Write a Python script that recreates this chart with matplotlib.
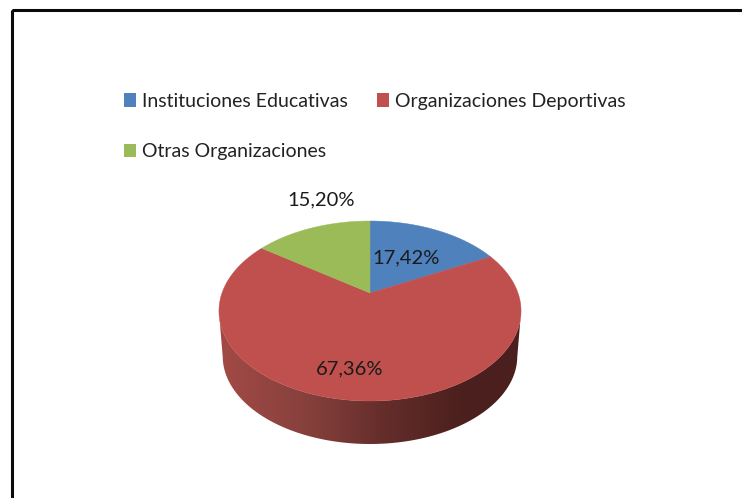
import numpy as np
import matplotlib
matplotlib.use('Agg')
import matplotlib.pyplot as plt
from matplotlib.colors import LinearSegmentedColormap
from matplotlib.patches import Polygon, Rectangle

labels = ['Instituciones Educativas', 'Otras Organizaciones', 'Organizaciones Deportivas']
# clockwise from 12 o'clock
slice_names = ['Instituciones Educativas', 'Organizaciones Deportivas', 'Otras Organizaciones']
slice_values = [17.42, 67.36, 15.20]
slice_colors = ['#4F81BD', '#C0504D', '#9BBB59']
label_pos = [(406, 258), (350, 369), (321, 200)]

plt.rcParams['font.family'] = ['Lato', 'DejaVu Sans']

fig = plt.figure(figsize=(7.42, 4.98), dpi=100)
ax = fig.add_axes([0, 0, 1, 1])


# perspective view of the unit circle, angle measured clockwise from the top
def project(angle, cx=370, cy=293, scale=1.0):
    x = np.sin(angle)
    y = np.cos(angle)
    w = 1 + 0.2 * y
    return cx + scale * 148 * x / w, cy - scale * 86.4 * y / w


# side of the pie, gradient clipped to the rim
t = np.linspace(0, 2 * np.pi, 721)
tx, ty = project(t)
near = ty >= 311
tx_n, ty_n = tx[near], ty[near]
bx, by = project(t[near], cy=338.7, scale=0.975)
rim = np.column_stack([np.r_[tx_n, bx[::-1]], np.r_[ty_n, by[::-1]]])
rim_patch = Polygon(rim, closed=True, facecolor='none', edgecolor='none')
ax.add_patch(rim_patch)
side_cmap = LinearSegmentedColormap.from_list(
    'side', [(0, '#A34A46'), (0.3, '#85403C'), (0.55, '#642D2A'), (0.8, '#4C201E'), (1, '#4A1F1D')])
img = ax.imshow(np.linspace(0, 1, 300).reshape(1, -1), cmap=side_cmap, aspect='auto',
                extent=(219, 521, 445, 300), zorder=2)
img.set_clip_path(rim_patch)

# top surface
start = 0
for value, color, pos in zip(slice_values, slice_colors, label_pos):
    end = start + value / sum(slice_values) * 2 * np.pi
    px, py = project(np.linspace(start, end, 200))
    pts = np.column_stack([np.r_[370, px], np.r_[293, py]])
    ax.add_patch(Polygon(pts, closed=True, facecolor=color, edgecolor=color, lw=0.3, zorder=3))
    ax.text(pos[0], pos[1], f'{value:.2f}%'.replace('.', ','), ha='center', va='center',
            fontsize=14.5, color='#1a1a1a', zorder=4)
    start = end

# legend, filled column first like the original
colors = dict(zip(slice_names, slice_colors))
handles = [Rectangle((0, 0), 1, 1, facecolor=colors[name], edgecolor='none') for name in labels]
ax.legend(handles, labels, ncols=2, loc='upper left', bbox_to_anchor=(124, 93),
          bbox_transform=ax.transData, frameon=False, fontsize=14, labelcolor='#222222',
          borderpad=0, borderaxespad=0, handlelength=0.617, handleheight=0.72,
          handletextpad=0.31, columnspacing=1.49, labelspacing=1.71)

# black frame, runs off the right and bottom edges
ax.add_patch(Rectangle((11.5, 9.5), 800, 600, facecolor='none', edgecolor='#0a0a0a', lw=2.2, zorder=5))

ax.set_xlim(0, 742)
ax.set_ylim(498, 0)
ax.axis('off')
fig.savefig('out.png', dpi=100)
